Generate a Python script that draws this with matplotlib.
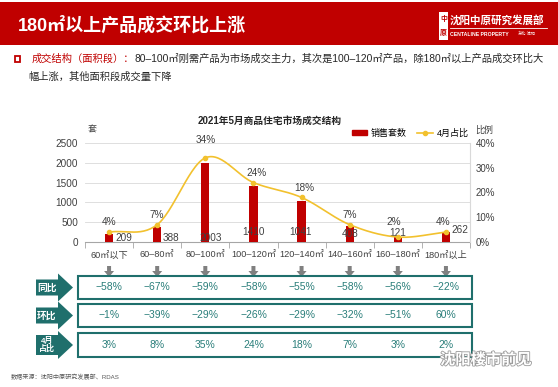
import matplotlib
matplotlib.use('Agg')
import matplotlib.pyplot as plt
import numpy as np
from matplotlib.patches import Rectangle, Polygon
from matplotlib.lines import Line2D
import matplotlib.patheffects as pe

plt.rcParams['font.family'] = ['Liberation Sans', 'Noto Sans CJK SC', 'DejaVu Sans']

categories = ['60㎡以下', '60–80㎡', '80–100㎡', '100–120㎡', '120–140㎡', '140–160㎡', '160–180㎡', '180㎡以上']
sales = [209, 388, 2003, 1410, 1041, 408, 121, 262]
share = [0.04, 0.07, 0.34, 0.24, 0.18, 0.07, 0.02, 0.04]
yoy = [-58, -67, -59, -58, -55, -58, -56, -22]
mom = [-1, -39, -29, -26, -29, -32, -51, 60]
apr_share = [3, 8, 35, 24, 18, 7, 3, 2]
row_names = ['同比', '环比', '4月\n占比']

RED = '#C00000'
GOLD = '#F2C12E'
TEAL = '#1F6F6C'
TEAL_TXT = '#2A7E7A'
GREY = '#595959'

W, H = 558, 387
fig = plt.figure(figsize=(W / 100, H / 100), dpi=100)
bg = fig.add_axes([0, 0, 1, 1], zorder=0)
bg.set_xlim(0, W)
bg.set_ylim(H, 0)
bg.axis('off')


def fx(x):
    return x / W


def fy(y):
    return 1 - y / H


# header band
bg.add_patch(Rectangle((0, 2), W, 43, color=RED, lw=0))
bg.text(18, 25, '180㎡以上产品成交环比上涨', color='white', fontsize=13,
        weight='bold', va='center', ha='left')
bg.add_patch(Rectangle((439, 12), 9, 28, facecolor='white', lw=0))
bg.text(443.5, 19, '中', color=RED, fontsize=5, ha='center', va='center', weight='bold')
bg.text(443.5, 33, '原', color=RED, fontsize=5, ha='center', va='center', weight='bold')
bg.text(450, 20, '沈阳中原研究发展部', color='white', fontsize=7.6, weight='bold',
        va='center', ha='left')
bg.plot([450, 547], [28, 28], color='white', lw=0.6)
bg.text(450, 34, 'CENTALINE PROPERTY', color='white', fontsize=3.7, weight='bold',
        va='center', ha='left')
bg.text(536, 34, '东北·沈阳', color='white', fontsize=3, va='center', ha='right')

# bullet text
bg.add_patch(Rectangle((14.5, 56), 5.5, 5.5, facecolor='none', edgecolor=RED, lw=1.3))
lead = bg.text(32, 59, '成交结构（面积段）：', color=RED, fontsize=7.4, va='center', ha='left')
bg.annotate('80–100㎡刚需产品为市场成交主力，其次是100–120㎡产品，除180㎡以上产品成交环比大',
            xy=(1, 0.5), xycoords=lead, color='#262626', fontsize=7.4, va='center', ha='left')
bg.text(28, 77, '幅上涨，其他面积段成交量下降', color='#262626', fontsize=7.4,
        va='center', ha='left')

# chart
ax = fig.add_axes([fx(85), fy(242), (470 - 85) / W, (242 - 143) / H], zorder=2)
ax.patch.set_alpha(0)
x = np.arange(len(categories))
ax.bar(x, sales, width=0.17, color=RED, zorder=3)
ax.set_xlim(-0.5, len(categories) - 0.5)
ax.set_ylim(0, 2500)
ax.set_yticks(range(0, 2501, 500))
ax.grid(axis='y', color='#D9D9D9', lw=0.6)
ax.set_axisbelow(True)
for s in ['top', 'left', 'right']:
    ax.spines[s].set_visible(False)
ax.spines['bottom'].set_color('#A6A6A6')
ax.set_xticks(x)
ax.set_xticklabels(categories, fontsize=6.6, color='#404040')
ax.set_xticks(np.arange(-0.5, len(categories), 1), minor=True)
ax.tick_params(axis='x', which='major', length=0, pad=6)
ax.tick_params(axis='x', which='minor', length=4, color='#A6A6A6')
ax.tick_params(axis='y', length=0, labelsize=7.2, labelcolor='#404040', pad=5)

bar_off = [(11, 3), (10, 3), (4, 3), (0, 7), (-1, 7), (0, 6), (0, 6.5), (10, 9)]
for i, v in enumerate(sales):
    ax.annotate(str(v), (i, 0), xytext=bar_off[i], textcoords='offset points',
                ha='center', va='center', fontsize=7.2, color='#404040', zorder=5)


def catmull(xv, yv, n=30):
    p = np.column_stack([xv, yv]).astype(float)
    p = np.vstack([2 * p[0] - p[1], p, 2 * p[-1] - p[-2]])
    t = np.linspace(0, 1, n)[:, None]
    segs = []
    for i in range(1, len(p) - 2):
        p0, p1, p2, p3 = p[i - 1], p[i], p[i + 1], p[i + 2]
        segs.append(0.5 * (2 * p1 + (-p0 + p2) * t + (2 * p0 - 5 * p1 + 4 * p2 - p3) * t ** 2
                           + (-p0 + 3 * p1 - 3 * p2 + p3) * t ** 3))
    return np.vstack(segs)


ax2 = ax.twinx()
ax2.set_ylim(0, 0.4)
ax2.set_yticks(np.arange(0, 0.41, 0.1))
ax2.set_yticklabels([f'{v:.0%}' for v in np.arange(0, 0.41, 0.1)])
ax2.tick_params(axis='y', length=0, labelsize=7, labelcolor='#404040', pad=4)
for s in ['top', 'left', 'bottom']:
    ax2.spines[s].set_visible(False)
ax2.spines['right'].set_color('#D9D9D9')
curve = catmull(x, share)
ax2.plot(curve[:, 0], curve[:, 1], color=GOLD, lw=1.2, zorder=4)
ax2.plot(x, share, 'o', color=GOLD, ms=3, zorder=5)
pct_off = [(0, 7), (0, 7), (0, 13), (2, 7), (2, 7), (0, 7), (-3, 10.5), (-2, 7)]
for i, v in enumerate(share):
    ax2.annotate(f'{v:.0%}', (i, v), xytext=pct_off[i], textcoords='offset points',
                 ha='center', va='center', fontsize=7.2, color='#404040')

bg.text(92, 130, '套', fontsize=6.5, color='#404040', ha='center', va='center')
bg.text(484, 130, '比例', fontsize=6.5, color='#404040', ha='center', va='center')
bg.text(270, 121, '2021年5月商品住宅市场成交结构', fontsize=7, weight='bold',
        color='#262626', ha='center', va='center')

handles = [Rectangle((0, 0), 1, 1, color=RED),
           Line2D([], [], color=GOLD, lw=1.2, marker='o', ms=3)]
fig.legend(handles, ['销售套数', '4月占比'], loc='center',
           bbox_to_anchor=(fx(410), fy(133)), ncol=2, frameon=False, fontsize=6.5,
           handlelength=1.7, handleheight=0.5, handletextpad=0.4, columnspacing=1.2)

# category x positions in pixel coords
cx = [bg.transData.inverted().transform(ax.transData.transform((i, 0)))[0] for i in x]

for c in cx:
    bg.add_patch(Polygon([(c - 2, 266), (c + 2, 266), (c + 2, 271), (c + 5, 271),
                          (c, 277), (c - 5, 271), (c - 2, 271)],
                         closed=True, facecolor='#808080', lw=0))

rows = [(276, 299), (304, 327), (333, 357)]
row_vals = [yoy, mom, apr_share]
for (top, bot), name, vals in zip(rows, row_names, row_vals):
    cy = (top + bot) / 2
    two = '\n' in name
    bh = 10 if two else 8
    bg.add_patch(Rectangle((78, top), 472 - 78, bot - top, facecolor='none',
                           edgecolor=TEAL, lw=1.5))
    bg.add_patch(Polygon([(36, cy - bh), (58, cy - bh), (58, cy - 14), (73, cy),
                          (58, cy + 14), (58, cy + bh), (36, cy + bh)],
                         closed=True, facecolor=TEAL, lw=0))
    bg.text(47, cy, name, color='white', fontsize=5.8 if two else 7, weight='bold',
            ha='center', va='center', linespacing=0.85)
    for c, v in zip(cx, vals):
        bg.text(c, cy, f'{v}%'.replace('-', '−'), color=TEAL_TXT, fontsize=7.5,
                ha='center', va='center')

bg.text(11, 377, '数据来源：沈阳中原研究发展部、RDAS', fontsize=4.4, color=GREY,
        ha='left', va='center')
bg.text(440, 360, '沈阳楼市前见', fontsize=11, color='white', ha='left', va='center',
        weight='bold', path_effects=[pe.withStroke(linewidth=1.2, foreground='#9A9A9A')])

fig.savefig('out.png', dpi=100)
